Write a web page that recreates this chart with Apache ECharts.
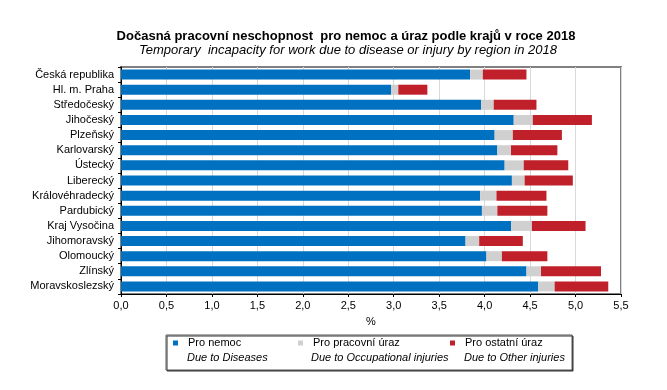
<!DOCTYPE html>
<html>
<head>
<meta charset="utf-8">
<script src="https://cdn.jsdelivr.net/npm/echarts@6/dist/echarts.min.js"></script>
<style>html,body{margin:0;padding:0;background:#fff;}#c{width:667px;height:390px;}</style>
</head>
<body>
<div id="c"></div>
<script>
const categories = ['Česká republika','Hl. m. Praha','Středočeský','Jihočeský','Plzeňský','Karlovarský','Ústecký','Liberecký','Královéhradecký','Pardubický','Kraj Vysočina','Jihomoravský','Olomoucký','Zlínský','Moravskoslezský'];
const diseases =     [3.84, 2.97, 3.96, 4.32, 4.11, 4.14, 4.22, 4.30, 3.95, 3.97, 4.29, 3.79, 4.02, 4.46, 4.59];
const occupational = [0.14, 0.08, 0.14, 0.21, 0.20, 0.15, 0.21, 0.14, 0.18, 0.17, 0.23, 0.15, 0.17, 0.16, 0.18];
const other =        [0.48, 0.32, 0.47, 0.65, 0.54, 0.51, 0.49, 0.53, 0.55, 0.55, 0.59, 0.48, 0.50, 0.66, 0.59];
const xTicks = { min: 0, max: 5.5, interval: 0.5 };
const seriesNames = ['Pro nemoc','Pro pracovní úraz','Pro ostatní úraz'];
const seriesNamesEn = ['Due to Diseases','Due to Occupational injuries','Due to Other injuries'];
const titleCz = 'Dočasná pracovní neschopnost  pro nemoc a úraz podle krajů v roce 2018';
const titleEn = 'Temporary  incapacity for work due to disease or injury by region in 2018';

const colors = ['#0070C0', '#D0D0D0', '#C0202A'];
const FONT = '"Liberation Sans", Arial, sans-serif';
const chart = echarts.init(document.getElementById('c'));
const legendLeft = [173, 298, 450];
const enLeft = [187, 311, 464];

chart.setOption({
  animation: false,
  textStyle: { fontFamily: FONT },
  title: [
    { text: titleCz, left: 341, top: 25, textAlign: 'center',
      textStyle: { fontFamily: FONT, fontSize: 13, fontWeight: 'bold', color: '#000' } },
    { text: titleEn, left: 343, top: 39, textAlign: 'center',
      textStyle: { fontFamily: FONT, fontSize: 13, fontStyle: 'italic', fontWeight: 'normal', color: '#000' } }
  ],
  grid: { left: 121, right: 46, top: 67, bottom: 96, show: true, borderColor: '#808080', borderWidth: 2, backgroundColor: '#fff' },
  xAxis: {
    type: 'value', min: xTicks.min, max: xTicks.max, interval: xTicks.interval,
    name: '%', nameLocation: 'middle', nameGap: 22,
    nameTextStyle: { fontFamily: FONT, fontSize: 11, color: '#000' },
    axisLine: { show: true, lineStyle: { color: '#000', width: 1 } },
    axisTick: { show: true, length: 3, lineStyle: { color: '#000' } },
    axisLabel: { fontFamily: FONT, fontSize: 11, color: '#000', margin: 6,
      formatter: v => v.toFixed(1).replace('.', ',') },
    splitLine: { show: true, lineStyle: { color: '#D9D9D9', width: 1 } }
  },
  yAxis: {
    type: 'category', data: categories, inverse: true,
    axisLine: { show: true, lineStyle: { color: '#000', width: 1 } },
    axisTick: { show: true, length: 3, alignWithLabel: false, lineStyle: { color: '#000' } },
    axisLabel: { fontFamily: FONT, fontSize: 11, color: '#000', margin: 7 },
    splitLine: { show: false }
  },
  legend: seriesNames.map((n, i) => ({
    data: [n], left: legendLeft[i], top: 336, orient: 'horizontal',
    icon: 'rect', itemWidth: 5, itemHeight: 5, padding: 0,
    textStyle: { fontFamily: FONT, fontSize: 11, color: '#000', lineHeight: 14, padding: [0, 0, 0, 5] },
    selectedMode: false
  })),
  graphic: [
    { type: 'rect', shape: { x: 166, y: 335, width: 406, height: 35 }, z: -1,
      style: { fill: '#fff', stroke: '#595959', lineWidth: 1, shadowColor: '#333', shadowOffsetX: 1, shadowOffsetY: 1 } }
  ].concat(seriesNamesEn.map((t, i) => ({
    type: 'text', left: enLeft[i], top: 352,
    style: { text: t, font: 'italic 11px ' + FONT, fill: '#000' }
  }))),
  series: [diseases, occupational, other].map((d, i) => ({
    name: seriesNames[i], type: 'bar', stack: 'total', data: d,
    barWidth: '66%', itemStyle: { color: colors[i] }
  }))
});
</script>
</body>
</html>
